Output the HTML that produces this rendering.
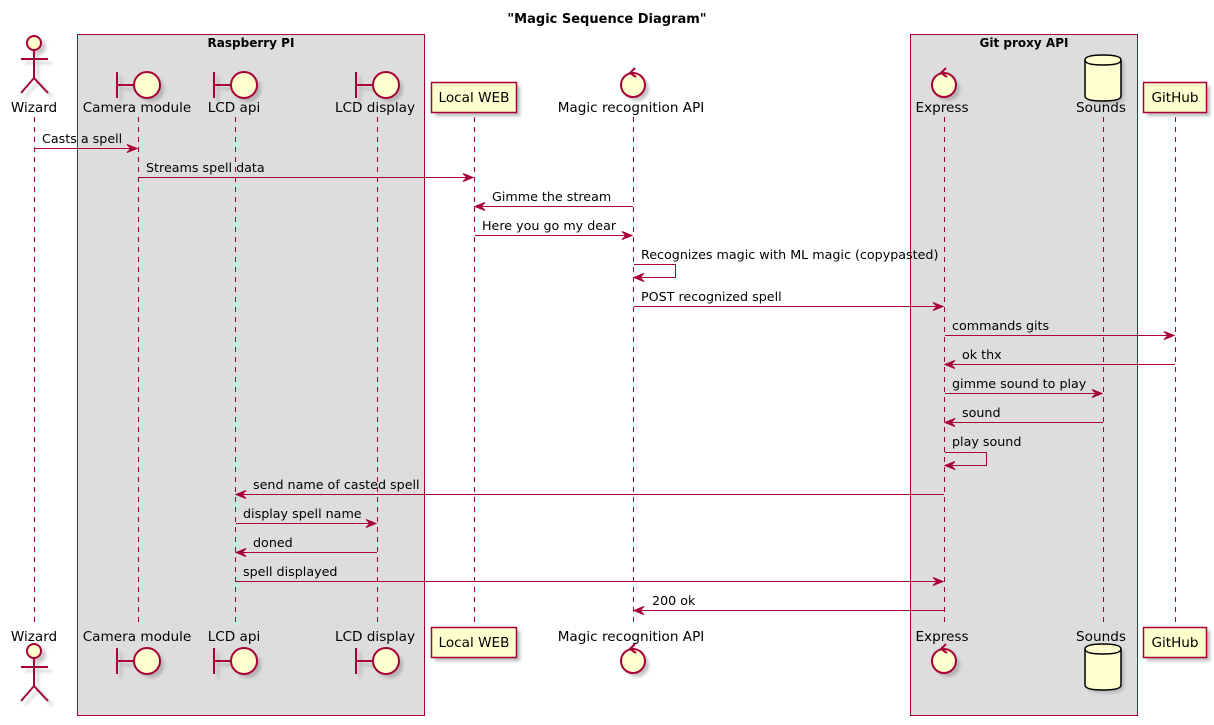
<!DOCTYPE html>
<html><head><meta charset="utf-8"><style>
html,body{margin:0;padding:0;background:#fff;}
svg{display:block;}
text{font-family:"DejaVu Sans","Liberation Sans",sans-serif;font-size:12.7px;fill:#000;}
.pl{font-size:13.6px;}
.b{font-weight:bold;}
.ll{stroke:#A80036;stroke-width:1;stroke-dasharray:5,5;fill:none;}
.m{stroke:#A80036;stroke-width:1;fill:none;}
.ah{fill:#A80036;stroke:#A80036;}
.p{fill:#FEFECE;stroke:#A80036;stroke-width:1.5;}
.sh{fill:#bbb;stroke:none;}
</style></head><body>
<svg width="1214" height="725" viewBox="0 0 1214 725" xmlns="http://www.w3.org/2000/svg">
<defs>
<filter id="f" x="-20%" y="-20%" width="160%" height="160%"><feGaussianBlur stdDeviation="1.5"/></filter>
<g id="bnd">
  <g filter="url(#f)" opacity="0.5" transform="translate(4,4)"><line x1="-21" y1="-13" x2="-21" y2="13" stroke="#888" stroke-width="2"/><line x1="-21" y1="0" x2="-4" y2="0" stroke="#888" stroke-width="2"/><circle cx="9" cy="0" r="13" fill="#888"/></g>
  <line x1="-21" y1="-13" x2="-21" y2="13" stroke="#A80036" stroke-width="2"/>
  <line x1="-21" y1="0" x2="-4" y2="0" stroke="#A80036" stroke-width="2"/>
  <circle cx="9" cy="0" r="13" class="p" style="stroke-width:2"/>
</g>
<g id="ctl">
  <circle cx="4" cy="4" r="12" fill="#888" opacity="0.5" filter="url(#f)"/>
  <circle cx="0" cy="0" r="12" class="p" style="stroke-width:2"/>
  <path d="M2,-17 L-3,-12 L3,-8" fill="none" stroke="#A80036" stroke-width="2"/>
</g>
<g id="act">
  <g filter="url(#f)" opacity="0.45" transform="translate(4,4)" stroke="#888" stroke-width="2" fill="none"><circle cx="0" cy="-43" r="7" fill="#888"/><line x1="0" y1="-36" x2="0" y2="-8"/><line x1="-13" y1="-27" x2="14" y2="-27"/><line x1="0" y1="-8" x2="-13" y2="7"/><line x1="0" y1="-8" x2="14" y2="7"/></g>
  <circle cx="0" cy="-43" r="7" class="p" style="stroke-width:2"/>
  <g stroke="#A80036" stroke-width="2" fill="none"><line x1="0" y1="-36" x2="0" y2="-8"/><line x1="-13" y1="-27" x2="14" y2="-27"/><line x1="0" y1="-8" x2="-13" y2="7"/><line x1="0" y1="-8" x2="14" y2="7"/></g>
</g>
<g id="db">
  <path d="M-18,-18 Q-18,-23 0,-23 Q18,-23 18,-18 L18,18 Q18,23 0,23 Q-18,23 -18,18 Z" fill="#888" opacity="0.45" filter="url(#f)" transform="translate(3,3)"/>
  <path d="M-18,-18 Q-18,-23 0,-23 Q18,-23 18,-18 L18,18 Q18,23 0,23 Q-18,23 -18,18 Z" fill="#FEFECE" stroke="#000" stroke-width="1.5"/>
  <path d="M-18,-18 Q-18,-13 0,-13 Q18,-13 18,-18" fill="none" stroke="#000" stroke-width="1.5"/>
</g>
</defs>

<text x="607" y="23" text-anchor="middle" class="b" style="font-size:13px">"Magic Sequence Diagram"</text>

<rect x="77.5" y="34.5" width="347" height="681" fill="#DDDDDD" stroke="#A80036"/>
<text x="251" y="47" text-anchor="middle" class="b" style="font-size:12px">Raspberry PI</text>
<rect x="910.5" y="34.5" width="227" height="681" fill="#DDDDDD" stroke="#A80036"/>
<text x="1024" y="47" text-anchor="middle" class="b" style="font-size:12px">Git proxy API</text>

<g class="ll">
<line x1="34.5" y1="117" x2="34.5" y2="627"/>
<line x1="138.5" y1="117" x2="138.5" y2="627"/>
<line x1="235.5" y1="117" x2="235.5" y2="627"/>
<line x1="377.5" y1="117" x2="377.5" y2="627"/>
<line x1="474.5" y1="117" x2="474.5" y2="627"/>
<line x1="633.5" y1="117" x2="633.5" y2="627"/>
<line x1="944.5" y1="117" x2="944.5" y2="627"/>
<line x1="1103.5" y1="117" x2="1103.5" y2="627"/>
<line x1="1175.5" y1="117" x2="1175.5" y2="627"/>
</g>

<use href="#act" x="34" y="86"/>
<text x="34" y="112" text-anchor="middle" class="pl">Wizard</text>
<use href="#bnd" x="138" y="85"/>
<text x="137" y="112" text-anchor="middle" class="pl">Camera module</text>
<use href="#bnd" x="235" y="85"/>
<text x="234" y="112" text-anchor="middle" class="pl">LCD api</text>
<use href="#bnd" x="377" y="85"/>
<text x="375" y="112" text-anchor="middle" class="pl">LCD display</text>
<rect x="435" y="86" width="85" height="30" class="sh" filter="url(#f)"/>
<rect x="431.5" y="82.5" width="85" height="30" class="p"/>
<text x="474" y="102" text-anchor="middle" class="pl">Local WEB</text>
<use href="#ctl" x="633" y="85"/>
<text x="631" y="112" text-anchor="middle" class="pl">Magic recognition API</text>
<use href="#ctl" x="944" y="85"/>
<text x="942" y="112" text-anchor="middle" class="pl">Express</text>
<use href="#db" x="1103" y="78"/>
<text x="1101" y="112" text-anchor="middle" class="pl">Sounds</text>
<rect x="1147" y="86" width="63" height="30" class="sh" filter="url(#f)"/>
<rect x="1143.5" y="82.5" width="63" height="30" class="p"/>
<text x="1175" y="102" text-anchor="middle" class="pl">GitHub</text>

<text x="34" y="641" text-anchor="middle" class="pl">Wizard</text>
<use href="#act" x="34" y="694"/>
<text x="137" y="641" text-anchor="middle" class="pl">Camera module</text>
<use href="#bnd" x="138" y="661"/>
<text x="234" y="641" text-anchor="middle" class="pl">LCD api</text>
<use href="#bnd" x="235" y="661"/>
<text x="375" y="641" text-anchor="middle" class="pl">LCD display</text>
<use href="#bnd" x="377" y="661"/>
<rect x="435" y="631" width="85" height="30" class="sh" filter="url(#f)"/>
<rect x="431.5" y="627.5" width="85" height="30" class="p"/>
<text x="474" y="647" text-anchor="middle" class="pl">Local WEB</text>
<text x="631" y="641" text-anchor="middle" class="pl">Magic recognition API</text>
<use href="#ctl" x="633" y="661"/>
<text x="942" y="641" text-anchor="middle" class="pl">Express</text>
<use href="#ctl" x="944" y="661"/>
<text x="1101" y="641" text-anchor="middle" class="pl">Sounds</text>
<use href="#db" x="1103" y="667"/>
<rect x="1147" y="631" width="63" height="30" class="sh" filter="url(#f)"/>
<rect x="1143.5" y="627.5" width="63" height="30" class="p"/>
<text x="1175" y="647" text-anchor="middle" class="pl">GitHub</text>

<g class="m">
<line x1="35" y1="148.5" x2="136" y2="148.5"/>
<line x1="139" y1="177.5" x2="472" y2="177.5"/>
<line x1="477" y1="206.5" x2="633" y2="206.5"/>
<line x1="475" y1="235.5" x2="631" y2="235.5"/>
<polyline points="634,264.5 675.5,264.5 675.5,277.5 636,277.5"/>
<line x1="634" y1="306.5" x2="942" y2="306.5"/>
<line x1="945" y1="335.5" x2="1173" y2="335.5"/>
<line x1="947" y1="364.5" x2="1175" y2="364.5"/>
<line x1="945" y1="393.5" x2="1101" y2="393.5"/>
<line x1="947" y1="422.5" x2="1103" y2="422.5"/>
<polyline points="945,452.5 986.5,452.5 986.5,465.5 947,465.5"/>
<line x1="238" y1="494.5" x2="944" y2="494.5"/>
<line x1="236" y1="523.5" x2="375" y2="523.5"/>
<line x1="238" y1="552.5" x2="377" y2="552.5"/>
<line x1="236" y1="581.5" x2="942" y2="581.5"/>
<line x1="636" y1="610.5" x2="944" y2="610.5"/>
</g>
<g class="ah">
<polygon points="137,148.5 127,144.5 131,148.5 127,152.5"/>
<polygon points="473,177.5 463,173.5 467,177.5 463,181.5"/>
<polygon points="475,206.5 485,202.5 481,206.5 485,210.5"/>
<polygon points="632,235.5 622,231.5 626,235.5 622,239.5"/>
<polygon points="634,277.5 644,273.5 640,277.5 644,281.5"/>
<polygon points="943,306.5 933,302.5 937,306.5 933,310.5"/>
<polygon points="1174,335.5 1164,331.5 1168,335.5 1164,339.5"/>
<polygon points="945,364.5 955,360.5 951,364.5 955,368.5"/>
<polygon points="1102,393.5 1092,389.5 1096,393.5 1092,397.5"/>
<polygon points="945,422.5 955,418.5 951,422.5 955,426.5"/>
<polygon points="945,465.5 955,461.5 951,465.5 955,469.5"/>
<polygon points="236,494.5 246,490.5 242,494.5 246,498.5"/>
<polygon points="376,523.5 366,519.5 370,523.5 366,527.5"/>
<polygon points="236,552.5 246,548.5 242,552.5 246,556.5"/>
<polygon points="943,581.5 933,577.5 937,581.5 933,585.5"/>
<polygon points="634,610.5 644,606.5 640,610.5 644,614.5"/>
</g>
<text x="42" y="143">Casts a spell</text>
<text x="146" y="172">Streams spell data</text>
<text x="492" y="201">Gimme the stream</text>
<text x="482" y="230">Here you go my dear</text>
<text x="641" y="259">Recognizes magic with ML magic (copypasted)</text>
<text x="641" y="301">POST recognized spell</text>
<text x="952" y="330">commands gits</text>
<text x="962" y="359">ok thx</text>
<text x="952" y="388">gimme sound to play</text>
<text x="962" y="417">sound</text>
<text x="952" y="446">play sound</text>
<text x="253" y="489">send name of casted spell</text>
<text x="243" y="518">display spell name</text>
<text x="253" y="547">doned</text>
<text x="243" y="576">spell displayed</text>
<text x="652" y="605">200 ok</text>
</svg>
</body></html>
